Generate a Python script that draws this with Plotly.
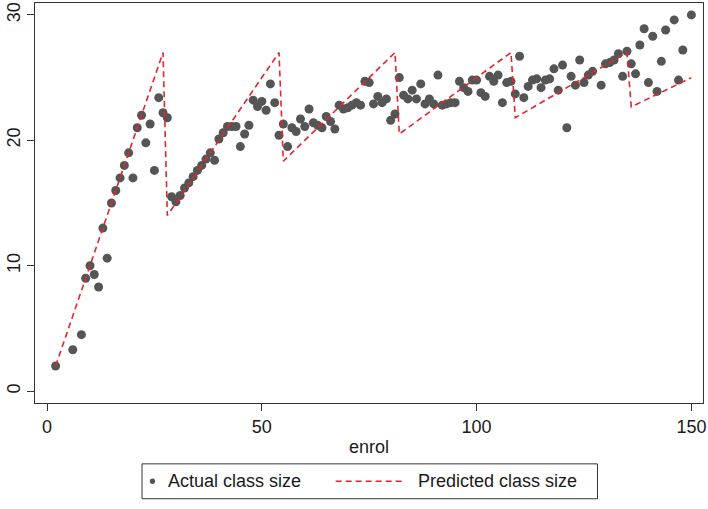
import plotly.graph_objects as go

# Actual class size observations (enrolment, class size)
enrol_actual = [2, 6, 8, 9, 10, 11, 12, 13, 14, 15, 16, 17, 18, 19, 20, 21, 22, 23, 24, 25,
                26, 27, 28, 29, 30, 31, 32, 33, 34, 35, 36, 37, 38, 39, 40, 41, 42, 43, 44, 45,
                46, 47, 48, 49, 50, 51, 52, 53, 54, 55, 56, 57, 58, 59, 60, 61, 62, 63, 64, 65,
                66, 67, 68, 69, 70, 71, 72, 73, 74, 75, 76, 77, 78, 79, 80, 81, 82, 83, 84, 85,
                86, 87, 88, 89, 90, 91, 92, 93, 94, 95, 96, 97, 98, 99, 100, 101, 102, 103, 104, 105,
                106, 107, 108, 109, 110, 111, 112, 113, 114, 115, 116, 117, 118, 119, 120, 121, 122, 123, 124, 125,
                126, 127, 129, 130, 131, 132, 133, 134, 135, 136, 137, 138, 139, 140, 141, 142, 143, 144, 146, 147,
                148, 150]
class_actual = [2.0, 3.3, 4.5, 9.0, 10.0, 9.3, 8.3, 13.0, 10.6, 15.0, 16.0, 17.0, 18.0, 19.0, 17.0, 21.0, 22.0, 19.8, 21.3, 17.6,
                23.4, 22.2, 21.8, 15.5, 15.1, 15.6, 16.2, 16.6, 17.1, 17.6, 18.0, 18.5, 19.0, 18.4, 20.1, 20.6, 21.1, 21.1, 21.1, 19.5,
                20.5, 21.2, 23.2, 22.7, 23.1, 22.4, 24.5, 23.0, 20.4, 21.3, 19.5, 21.0, 20.7, 21.7, 21.1, 22.5, 21.4, 21.2, 21.0, 21.9,
                21.5, 20.9, 22.8, 22.5, 22.6, 22.8, 23.0, 22.8, 24.7, 24.6, 22.9, 23.5, 23.0, 23.3, 21.6, 22.1, 25.0, 23.6, 23.3, 24.0,
                23.3, 24.5, 22.9, 23.3, 22.9, 25.2, 22.8, 22.9, 23.0, 23.0, 24.7, 24.2, 23.9, 24.8, 24.8, 23.8, 23.5, 25.1, 24.7, 25.2,
                23.0, 24.6, 24.7, 23.7, 26.7, 23.4, 24.3, 24.8, 24.9, 24.2, 24.8, 24.9, 25.7, 24.0, 26.0, 21.0, 25.1, 24.4, 26.4, 24.6,
                25.2, 25.5, 24.4, 26.1, 26.2, 26.4, 26.9, 25.1, 27.1, 26.1, 25.3, 27.6, 28.9, 24.6, 28.3, 23.9, 26.3, 28.8, 29.6, 24.8,
                27.2, 30.0]

# Predicted class size (vertices of the piecewise line)
enrol_pred = [2, 27, 28, 54, 55, 81, 82, 108, 109, 135, 136, 150]
class_pred = [2.0, 27.0, 14.0, 27.0, 18.333, 27.0, 20.5, 27.0, 21.8, 27.0, 22.667, 25.0]

x_ticks = [0, 50, 100, 150]
y_ticks = [0, 10, 20, 30]

series_names = ["Actual class size", "Predicted class size"]

FONT = "Liberation Sans, Arial, sans-serif"
TXT = "#1a1a1a"
DOT = "#555555"
RED = "#e3262c"

W, H = 708, 509
ML, MR, MT, MB = 35, 2, 2, 106
PW, PH = W - ML - MR, H - MT - MB


def px(xpix):
    return (xpix - ML) / PW


def py(ypix):
    return (H - MB - ypix) / PH


fig = go.Figure()
fig.add_trace(go.Scatter(
    x=enrol_actual, y=class_actual, mode="markers", name=series_names[0],
    marker=dict(color=DOT, size=9, line=dict(width=0)), showlegend=False,
))
fig.add_trace(go.Scatter(
    x=enrol_pred, y=class_pred, mode="lines", name=series_names[1],
    line=dict(color=RED, width=1.6, dash="6px,4px"), showlegend=False,
))

axis_common = dict(
    showgrid=False, zeroline=False, showline=True, linecolor="#333333", linewidth=1,
    mirror=True, ticks="outside", ticklen=7, tickcolor="#333333", tickwidth=1,
    tickfont=dict(family=FONT, size=18, color=TXT), ticklabeloverflow="allow",
)

# Legend box (drawn as layout decoration)
leg_y = 481.5
shapes = [
    dict(type="rect", xref="paper", yref="paper", x0=px(142.5), x1=px(600), y0=py(499), y1=py(464),
         line=dict(color="#333333", width=1), fillcolor="white", layer="above"),
    dict(type="circle", xref="paper", yref="paper", x0=px(150.3), x1=px(155.7), y0=py(leg_y + 2.7),
         y1=py(leg_y - 2.7), line=dict(width=0), fillcolor=DOT, layer="above"),
    dict(type="line", xref="paper", yref="paper", x0=px(337), x1=px(407), y0=py(leg_y), y1=py(leg_y),
         line=dict(color=RED, width=1.6, dash="6px,4px"), layer="above"),
]
annotations = [
    dict(text=series_names[0], xref="paper", yref="paper", x=px(166.5), y=py(leg_y), xanchor="left",
         yanchor="middle", showarrow=False, font=dict(family=FONT, size=18, color=TXT)),
    dict(text=series_names[1], xref="paper", yref="paper", x=px(417.5), y=py(leg_y), xanchor="left",
         yanchor="middle", showarrow=False, font=dict(family=FONT, size=18, color=TXT)),
]

fig.update_layout(
    width=W, height=H,
    margin=dict(l=ML, r=MR, t=MT, b=MB),
    paper_bgcolor="white", plot_bgcolor="white",
    font=dict(family=FONT, size=18, color=TXT),
    xaxis=dict(range=[-2.8, 152.7], tickvals=x_ticks,
               title=dict(text="enrol", font=dict(family=FONT, size=18, color=TXT), standoff=4),
               **axis_common),
    yaxis=dict(range=[-0.95, 30.95], tickvals=y_ticks, tickangle=-90, **axis_common),
    shapes=shapes,
    annotations=annotations,
    showlegend=False,
)

fig.write_html("out.html")
